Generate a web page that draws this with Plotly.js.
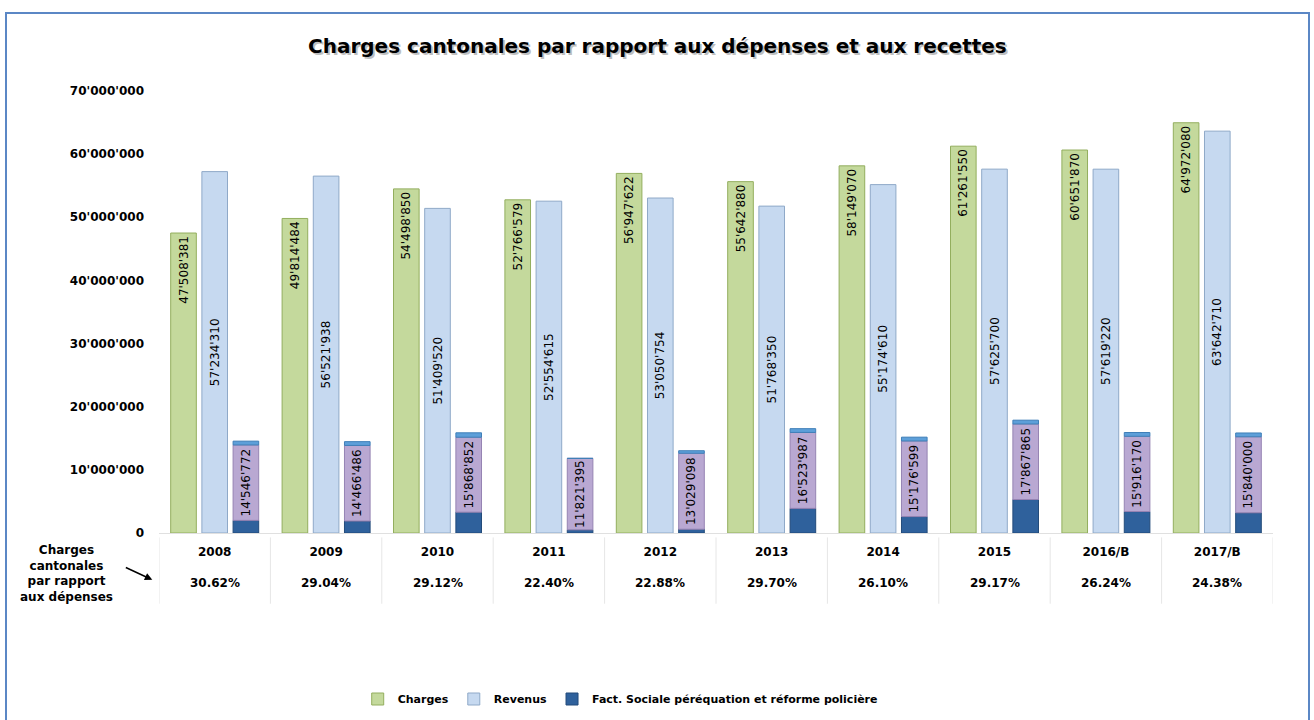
<!DOCTYPE html>
<html>
<head>
<meta charset="utf-8">
<script src="https://cdn.plot.ly/plotly-3.0.1.min.js"></script>
<style>
  body { margin: 0; background: #fff; }
  #wrap { position: relative; width: 1314px; height: 720px; }
  #chart { width: 1314px; height: 720px; }
  #frame {
    position: absolute; left: 5px; top: 12px; width: 1301px; height: 720px;
    border: 2px solid #5b87c5; pointer-events: none;
  }
</style>
</head>
<body>
<div id="wrap">
  <div id="chart"></div>
  <div id="frame"></div>
</div>
<script>
// years (x categories)
var years = ['2008', '2009', '2010', '2011', '2012', '2013', '2014', '2015', '2016/B', '2017/B']

// series values
var charges = [47508381, 49814484, 54498850, 52766579, 56947622, 55642880, 58149070, 61261550, 60651870, 64972080]
var revenus = [57234310, 56521938, 51409520, 52554615, 53050754, 51768350, 55174610, 57625700, 57619220, 63642710]
var chargesCantonales = [14546772, 14466486, 15868852, 11821395, 13029098, 16523987, 15176599, 17867865, 15916170, 15840000]
// parts of the stacked bar
var factSociale = [2000000, 1900000, 3300000, 500000, 600000, 3900000, 2600000, 5300000, 3400000, 3200000]
var capPart = [600000, 600000, 700000, 0, 400000, 600000, 600000, 600000, 600000, 600000]
// row under the axis
var pctDepenses = ['30.62%', '29.04%', '29.12%', '22.40%', '22.88%', '29.70%', '26.10%', '29.17%', '26.24%', '24.38%']

function fmt(n) {
    return String(n).replace(/\B(?=(\d{3})+(?!\d))/g, "'")
}

// middle (purple) part = total minus the two blue parts
var middlePart = chargesCantonales.map(function(v, i) { return v - factSociale[i] - capPart[i] })
var baseMiddle = factSociale.slice()
var baseCap = factSociale.map(function(v, i) { return v + middlePart[i] })

var barW = 0.23
var fontFam = 'DejaVu Sans, Verdana, sans-serif'
var labelFont = {family: fontFam, size: 12, color: '#000'}
var boldFont = {family: fontFam, size: 12, color: '#000', weight: 'bold'}

var traceCharges = {
    x: years, y: charges, type: 'bar', name: 'Charges',
    width: barW, offset: -0.28 - barW / 2,
    marker: {color: '#c4d99c', line: {color: '#93ae5e', width: 1}},
    text: charges.map(fmt), textposition: 'inside', insidetextanchor: 'end',
    textangle: -90, textfont: labelFont, constraintext: 'none', hoverinfo: 'skip'
}

var traceRevenus = {
    x: years, y: revenus, type: 'bar', name: 'Revenus',
    width: barW, offset: -barW / 2,
    marker: {color: '#c6d9f0', line: {color: '#8fa9c8', width: 1}},
    text: revenus.map(fmt), textposition: 'inside', insidetextanchor: 'middle',
    textangle: -90, textfont: labelFont, constraintext: 'none', hoverinfo: 'skip'
}

var traceFact = {
    x: years, y: factSociale, type: 'bar', name: 'Fact. Sociale péréquation et réforme policière',
    width: barW, offset: 0.28 - barW / 2,
    marker: {color: '#2f619c', line: {color: '#234b7a', width: 1}},
    hoverinfo: 'skip'
}

var traceMiddle = {
    x: years, y: middlePart, base: baseMiddle, type: 'bar', name: 'Charges cantonales',
    showlegend: false,
    width: barW, offset: 0.28 - barW / 2,
    marker: {color: '#b9a8d2', line: {color: '#9684b3', width: 1}},
    text: chargesCantonales.map(fmt), textposition: 'inside', insidetextanchor: 'middle',
    textangle: -90, textfont: labelFont, constraintext: 'none', hoverinfo: 'skip'
}

var traceCap = {
    x: years, y: capPart, base: baseCap, type: 'bar', name: 'part',
    showlegend: false,
    width: barW, offset: 0.28 - barW / 2,
    marker: {color: '#5d9fd9', line: {color: '#3f7fb8', width: 1}},
    hoverinfo: 'skip'
}

var data = [traceCharges, traceRevenus, traceFact, traceMiddle, traceCap]

// table lines and percentage row under the axis
var shapes = []
for (var i = 0; i <= years.length; i++) {
    shapes.push({
        type: 'line', xref: 'x', yref: 'paper',
        x0: i - 0.5, x1: i - 0.5, y0: -0.01, y1: -0.16,
        line: {color: '#e6e6e6', width: 1}
    })
}

// x given as category index so "2008" is not read as a number
var annotations = pctDepenses.map(function(p, i) {
    return {
        x: i, xref: 'x', y: -0.113, yref: 'paper', yanchor: 'middle', text: p,
        showarrow: false, font: boldFont
    }
})

annotations.push({
    x: -0.0826, xref: 'paper', xanchor: 'center', y: -0.0905, yref: 'paper', yanchor: 'middle',
    text: 'Charges<br>cantonales<br>par rapport<br>aux dépenses',
    showarrow: false, align: 'center', font: boldFont
})

annotations.push({
    x: -0.006, xref: 'paper', y: -0.106, yref: 'paper', text: '',
    showarrow: true, arrowhead: 2, arrowsize: 1, arrowwidth: 1.5, arrowcolor: '#000',
    ax: -28, ay: -13
})

// soft shadow under the title
var titleText = 'Charges cantonales par rapport aux dépenses et aux recettes'
annotations.push({
    xref: 'paper', x: (657 + 2 - 159) / 1114, xanchor: 'center',
    yref: 'paper', y: 1 + (91 - 46 - 2) / 442, yanchor: 'middle',
    text: titleText,
    showarrow: false, font: {family: fontFam, size: 20, color: 'rgba(0,0,0,0.25)', weight: 'bold'}
})
annotations.push({
    xref: 'paper', x: (657 - 159) / 1114, xanchor: 'center',
    yref: 'paper', y: 1 + (91 - 46) / 442, yanchor: 'middle',
    text: titleText,
    showarrow: false, font: {family: fontFam, size: 20, color: '#000', weight: 'bold'}
})

var layout = {
    width: 1314, height: 720,
    margin: {l: 159, r: 41, t: 91, b: 187},
    paper_bgcolor: '#fff', plot_bgcolor: '#fff',
    separators: ".'",
    barmode: 'overlay',
    xaxis: {
        type: 'category', range: [-0.5, years.length - 0.5],
        showgrid: false, zeroline: false,
        showline: true, linecolor: '#e0e0e0',
        ticks: 'outside', ticklen: 8, tickcolor: 'rgba(0,0,0,0)',
        tickfont: boldFont
    },
    yaxis: {
        range: [0, 70000000], dtick: 10000000, tickformat: ',d',
        showgrid: false, zeroline: false, showline: false,
        ticklabelstandoff: 14,
        tickfont: boldFont
    },
    legend: {
        orientation: 'h', xref: 'container', x: 0.472, xanchor: 'center',
        yref: 'container', y: 1 - 699 / 720, yanchor: 'middle',
        font: {family: fontFam, size: 11, color: '#000', weight: 'bold'},
        itemwidth: 30, tracegroupgap: 0
    },
    shapes: shapes,
    annotations: annotations
}

Plotly.newPlot('chart', data, layout, {displayModeBar: false, staticPlot: true})
</script>
</body>
</html>
